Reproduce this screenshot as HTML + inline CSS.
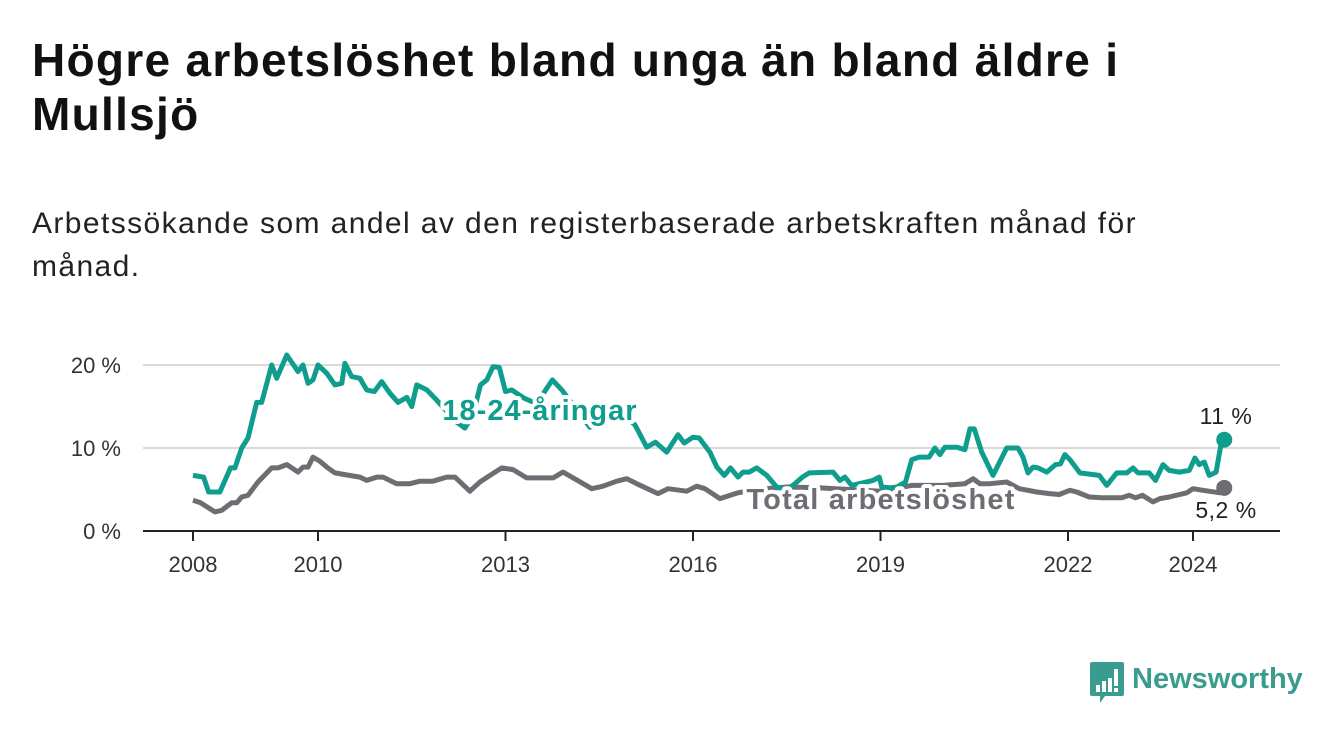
<!DOCTYPE html>
<html><head><meta charset="utf-8">
<style>
body{margin:0;background:#fff;width:1340px;height:734px;overflow:hidden;font-family:"Liberation Sans","DejaVu Sans",sans-serif;}
h1{position:absolute;left:32px;top:33px;margin:0;font-size:46px;line-height:54px;font-weight:bold;color:#111;width:1290px;letter-spacing:1.3px}
.sub{position:absolute;left:32px;top:202px;margin:0;font-size:30px;line-height:43px;color:#222;width:1300px;letter-spacing:1.4px}
</style></head><body>
<h1>Högre arbetslöshet bland unga än bland äldre i<br>Mullsjö</h1>
<p class="sub">Arbetssökande som andel av den registerbaserade arbetskraften månad för<br>månad.</p>
<svg id="chart" width="1340" height="734" style="position:absolute;left:0;top:0"></svg>
<div style="position:absolute;left:1089px;top:661px;display:flex;align-items:center">
<svg width="36" height="44"><path d="M3 1h30a2 2 0 0 1 2 2v30a2 2 0 0 1-2 2H16l-5 7v-7H3a2 2 0 0 1-2-2V3a2 2 0 0 1 2-2z" fill="#3a9c8f"/><rect x="7" y="24" width="4" height="7" fill="#fff"/><rect x="13" y="20" width="4" height="11" fill="#fff"/><rect x="19" y="17" width="4" height="14" fill="#fff"/><rect x="25" y="8" width="4" height="17" fill="#fff"/><rect x="25" y="27" width="4" height="4" fill="#fff"/></svg>
<span style="margin-left:7px;font-size:29px;font-weight:bold;color:#3a9c8f;margin-top:-8px">Newsworthy</span>
</div>
<script>
const youthT=[2008.0,2008.17,2008.25,2008.43,2008.6,2008.67,2008.78,2008.88,2009.02,2009.1,2009.26,2009.34,2009.5,2009.68,2009.76,2009.84,2009.92,2010.0,2010.14,2010.27,2010.38,2010.43,2010.54,2010.67,2010.78,2010.9,2011.02,2011.15,2011.28,2011.42,2011.5,2011.58,2011.74,2011.87,2012.05,2012.2,2012.35,2012.48,2012.6,2012.7,2012.8,2012.9,2013.0,2013.1,2013.3,2013.45,2013.6,2013.75,2013.9,2014.1,2014.35,2014.5,2014.7,2014.9,2015.07,2015.26,2015.4,2015.58,2015.76,2015.86,2016.0,2016.1,2016.27,2016.38,2016.5,2016.6,2016.72,2016.8,2016.9,2017.02,2017.18,2017.34,2017.48,2017.6,2017.75,2017.86,2018.24,2018.35,2018.43,2018.54,2018.88,2018.98,2019.02,2019.15,2019.26,2019.4,2019.5,2019.62,2019.78,2019.87,2019.95,2020.03,2020.22,2020.35,2020.43,2020.5,2020.62,2020.8,2021.02,2021.2,2021.28,2021.36,2021.44,2021.52,2021.66,2021.8,2021.88,2021.95,2022.03,2022.19,2022.5,2022.62,2022.78,2022.94,2023.04,2023.12,2023.3,2023.4,2023.52,2023.62,2023.78,2023.94,2024.03,2024.1,2024.18,2024.26,2024.37,2024.46,2024.5];
const youthV=[6.7,6.5,4.7,4.7,7.6,7.6,10,11.2,15.5,15.5,20,18.4,21.2,19.2,20,17.8,18.2,20,19,17.6,17.8,20.2,18.6,18.4,17,16.8,18,16.6,15.5,16.1,15,17.6,17,16,14.5,13.2,12.4,14,17.6,18.2,19.8,19.7,16.8,17,16,15.5,16.5,18.2,17,15,12.5,13,14.5,14,12.8,10.1,10.7,9.5,11.6,10.6,11.3,11.2,9.5,7.7,6.7,7.6,6.5,7.1,7.1,7.6,6.7,5.3,5,5.5,6.5,7,7.1,6.1,6.5,5.5,6.1,6.5,5.3,5.2,5.3,5.9,8.6,8.9,8.9,10,9.2,10.1,10.1,9.8,12.3,12.3,9.5,6.7,10,10,8.9,7,7.7,7.6,7.1,8,8.1,9.2,8.6,7,6.7,5.5,7,7,7.6,7,7,6.1,8,7.3,7.1,7.3,8.8,8,8.3,6.7,7.1,11];
const totalT=[2008.0,2008.12,2008.35,2008.46,2008.62,2008.7,2008.78,2008.88,2009.04,2009.26,2009.36,2009.5,2009.68,2009.76,2009.84,2009.92,2010.03,2010.14,2010.27,2010.5,2010.67,2010.78,2010.94,2011.04,2011.26,2011.47,2011.63,2011.84,2012.06,2012.19,2012.43,2012.59,2012.75,2012.94,2013.12,2013.34,2013.55,2013.76,2013.92,2014.06,2014.38,2014.56,2014.78,2014.94,2015.1,2015.44,2015.6,2015.9,2016.06,2016.19,2016.43,2016.72,2017.0,2017.5,2018.0,2018.5,2019.0,2019.5,2020.0,2020.35,2020.48,2020.59,2020.75,2021.02,2021.22,2021.5,2021.7,2021.86,2022.03,2022.14,2022.34,2022.54,2022.86,2022.98,2023.08,2023.19,2023.36,2023.47,2023.62,2023.9,2024.0,2024.16,2024.43,2024.5];
const totalV=[3.7,3.4,2.3,2.5,3.4,3.4,4.1,4.3,5.9,7.6,7.6,8,7.1,7.7,7.7,8.9,8.4,7.7,7,6.7,6.5,6.1,6.5,6.5,5.7,5.7,6,6,6.5,6.5,4.8,5.9,6.7,7.6,7.4,6.4,6.4,6.4,7.1,6.5,5.1,5.4,6,6.3,5.7,4.5,5.1,4.8,5.4,5.1,3.9,4.6,5,5.3,5.2,5,4.8,5.5,5.5,5.7,6.3,5.7,5.7,5.9,5.1,4.7,4.5,4.4,4.9,4.7,4.1,4,4,4.3,4,4.3,3.5,3.9,4.1,4.6,5.1,4.9,4.6,5.2];
const yTicks=[0,10,20];
const xTicks=[2008,2010,2013,2016,2019,2022,2024];
const NS='http://www.w3.org/2000/svg';
const svg=document.getElementById('chart');
const X=t=>193+62.5*(t-2008);
const Y=v=>531-8.3*v;
function mk(tag,attrs,parent){const e=document.createElementNS(NS,tag);for(const k in attrs)e.setAttribute(k,attrs[k]);(parent||svg).appendChild(e);return e;}
yTicks.forEach(v=>{
  if(v>0){const g=mk('line',{x1:143,x2:1280,y1:Y(v),y2:Y(v),stroke:'#d9d9d9','stroke-width':2});
  
  }
  const t=mk('text',{x:121,y:Y(v)+8,'text-anchor':'end','font-size':22,fill:'#333'});
  t.textContent=v+' %';
  
  
});
const ax=mk('line',{x1:143,x2:1280,y1:531,y2:531,stroke:'#222','stroke-width':2});


xTicks.forEach(yr=>{
  const tk=mk('line',{x1:X(yr),x2:X(yr),y1:531,y2:541,stroke:'#222','stroke-width':2});
  
  
  const t=mk('text',{x:X(yr),y:572,'text-anchor':'middle','font-size':22,fill:'#333'});
  t.textContent=yr;
  
  
});
function line(T,V,color,name){
  const d=T.map((t,i)=>(i?'L':'M')+X(t).toFixed(1)+' '+Y(V[i]).toFixed(1)).join(' ');
  const p=mk('path',{d:d,fill:'none',stroke:color,'stroke-width':5,'stroke-linejoin':'round'});
  
  
  const c=mk('circle',{cx:X(T[T.length-1]),cy:Y(V[V.length-1]),r:8,fill:color});
  
  
}
line(totalT,totalV,'#6e6d73','total-line');
line(youthT,youthV,'#0f9e8e','youth-line');
function label(txt,x,y,color,name,bold,anchor,size,ls){
  const t=mk('text',{x:x,y:y,'text-anchor':anchor,'font-size':size,'font-weight':bold?'bold':'normal',fill:color,stroke:'#fff','stroke-width':bold?8:0,'paint-order':'stroke','stroke-linejoin':'round','letter-spacing':ls});
  t.textContent=txt;
  
  
}
label('18-24-åringar',540,420,'#0f9e8e','youth-series-label',true,'middle',29,1);
label('Total arbetslöshet',881,509,'#6e6d73','total-series-label',true,'middle',29,1.2);
label('11 %',1226,424,'#222','youth-end-value',false,'middle',23,0.5);
label('5,2 %',1226,518,'#222','total-end-value',false,'middle',23,0.5);
</script>
</body></html>
